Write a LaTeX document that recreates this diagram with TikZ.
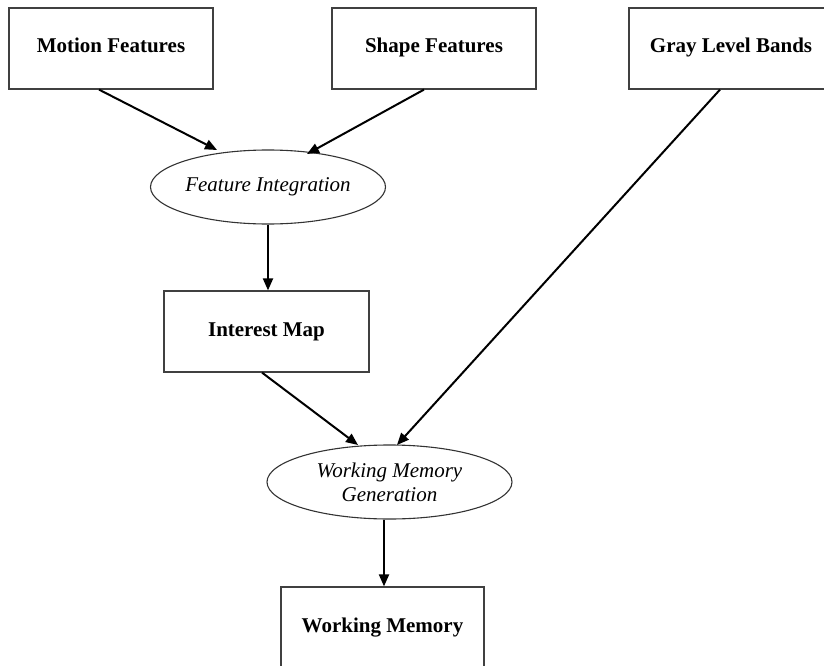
\documentclass[tikz,border=0pt]{standalone}
\usepackage{fontspec}
\setmainfont{Liberation Serif}
\usetikzlibrary{shapes.geometric,arrows.meta,calc}

\tikzset{
  box/.style={draw=black!75, line width=1.2pt, rectangle, inner sep=0pt,
    minimum width=204pt, minimum height=81pt, text height=14pt, text depth=5pt,
    font=\fontsize{21}{24}\selectfont\bfseries},
  oval/.style={draw=black!80, line width=1.1pt, ellipse, inner sep=0pt,
    minimum height=74pt, align=center,
    font=\fontsize{21}{24}\selectfont\itshape},
  flow/.style={line width=2pt, -{Triangle[length=12pt,width=10pt]}}
}

\begin{document}
\begin{tikzpicture}[x=1pt,y=-1pt]
  \useasboundingbox (0,0) rectangle (824,666);

  % sources
  \node[box] (mot)  at (111,48.5)  {Motion Features};
  \node[box] (sha)  at (434,48.5)  {Shape Features};
  \node[box] (gray) at (731,48.5)  {Gray Level Bands};

  % processing stages
  \node[oval, minimum width=235pt] (fi) at (268,187)
    {\makebox[0pt]{Feature Integration}};
  \node[box, minimum width=205pt] (im) at (266.5,331.5) {Interest Map};
  \node[oval, minimum width=245pt] (wmg) at (389.5,482)
    {Working Memory\\Generation};
  \node[box, minimum width=203pt] (wm) at (382.5,627.5) {Working Memory};

  % connectors
  \draw[flow] ($(mot.south)+(-12,0)$)  -- ($(fi.center)+(-51,-37)$);
  \draw[flow] ($(sha.south)+(-10,0)$)  -- ($(fi.center)+(39,-33)$);
  \draw[flow] (fi.south) -- (fi.south |- im.north);
  \draw[flow] ($(im.south)+(-4.5,0)$)  -- ($(wmg.center)+(-31.5,-37)$);
  \draw[flow] ($(gray.south)+(-11,0)$) -- ($(wmg.center)+(7.5,-37)$);
  \draw[flow] ($(wm.north |- wmg.south)+(1.5,0)$) -- ($(wm.north)+(1.5,0)$);
\end{tikzpicture}
\end{document}
